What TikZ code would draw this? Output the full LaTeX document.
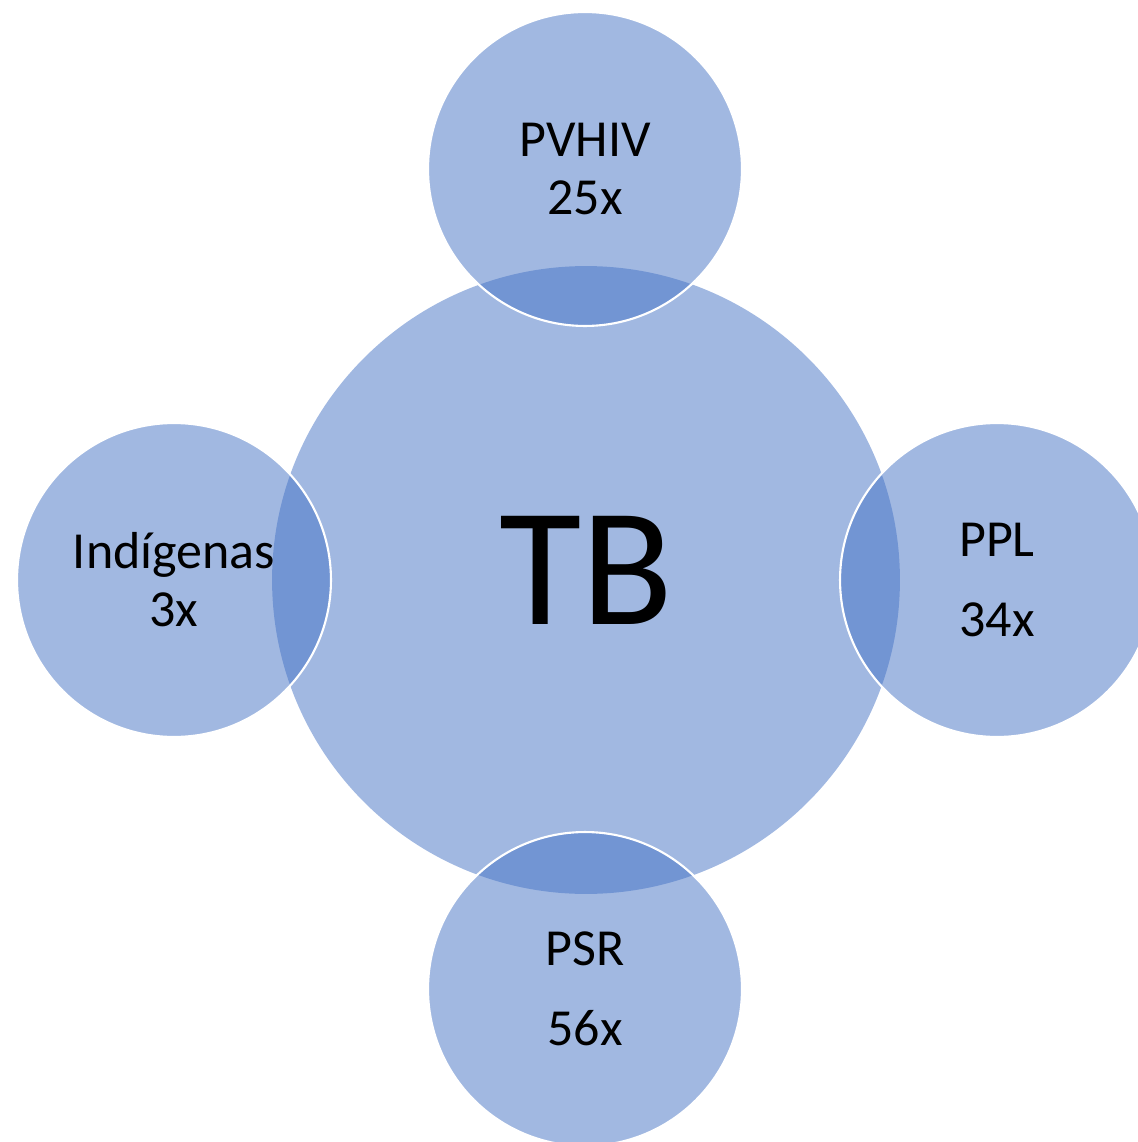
\documentclass[tikz,border=0pt]{standalone}
\usepackage{fontspec}
\setmainfont{Carlito}
\definecolor{tbblue}{RGB}{68,114,196}
\tikzset{
  disc/.style={circle, inner sep=0pt, fill=tbblue, fill opacity=0.5, text opacity=1, align=center},
  bigdisc/.style={disc, minimum size=12.56cm, text height=2.14cm, text depth=0.34cm, font=\fontsize{96}{96}\selectfont},
  smalldisc/.style={disc, draw=white, line width=1.2pt, minimum size=6.28cm, font=\fontsize{29.6}{33}\selectfont}
}
\begin{document}
\begin{tikzpicture}[x=0.02cm,y=-0.02cm]
\useasboundingbox (0,0) rectangle (1138,1142);
\clip (0,0) rectangle (1138,1142);
% centre
\node[bigdisc] (tb) at (586,580) {TB};
% groups round it
\node[smalldisc] (pvhiv) at (585,169) {PVHIV\\25x};
\node[smalldisc] (indig) at (174,580) {Indígenas\\3x};
\node[smalldisc] (ppl) at (997,580) {PPL\\[12.5pt]34x};
\node[smalldisc] (psr) at (585,989) {PSR\\[12.5pt]56x};
\end{tikzpicture}
\end{document}
